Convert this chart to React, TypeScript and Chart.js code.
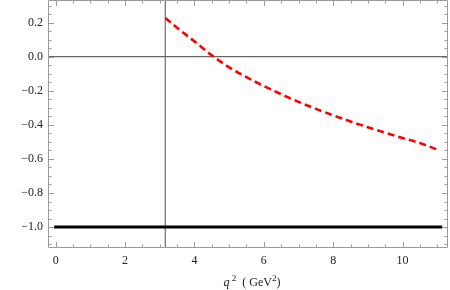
import React, { useEffect, useRef } from "react";
import { Chart, registerables } from "chart.js";

Chart.register(...registerables);

// ---- data ----
const curveX = [3.16, 3.5, 4.0, 4.5, 5.0, 5.5, 6.0, 6.5, 7.0, 7.5, 8.0, 8.5, 9.0, 9.5, 10.0, 10.5, 11.0];
const curveY = [0.228, 0.170, 0.090, 0.008, -0.062, -0.120, -0.172, -0.220, -0.265, -0.306, -0.344, -0.380, -0.414, -0.446, -0.477, -0.507, -0.545];
const baseX = [0, 11.1];
const baseY = [-1, -1];
const thresholdX = 3.16;
const zeroY = 0;
const xTicks = [0, 2, 4, 6, 8, 10];
const yTicks = [0.2, 0.0, -0.2, -0.4, -0.6, -0.8, -1.0];
const xMinorStep = 0.5;
const yMinorStep = 0.05;
const xMin = -0.222;
const xMax = 11.31;
const yMin = -1.123;
const yMax = 0.333;

const SERIF = '"Liberation Serif", "DejaVu Serif", serif';

const fmtY = (v: number) => {
  const s = Math.abs(v).toFixed(1);
  return v < -1e-9 ? "\u2212" + s : s;
};

const framePlugin = {
  id: "mmaFrame",
  afterDatasetsDraw(chart: any) {
    const { ctx, chartArea, scales } = chart;
    const xs = scales.x;
    const ys = scales.y;
    const L = chartArea.left + 0.5;
    const R = chartArea.right - 0.5;
    const T = chartArea.top + 0.5;
    const B = chartArea.bottom - 0.5;
    ctx.save();
    ctx.strokeStyle = "#9a9a9a";
    ctx.lineWidth = 1;
    ctx.beginPath();
    ctx.rect(L, T, R - L, B - T);
    ctx.stroke();
    // ticks
    const major = 5.5;
    const minor = 3;
    ctx.beginPath();
    const xStart = Math.ceil(xMin / xMinorStep);
    const xEnd = Math.floor(xMax / xMinorStep);
    for (let i = xStart; i <= xEnd; i++) {
      const v = i * xMinorStep;
      const isMajor = xTicks.some((t) => Math.abs(t - v) < 1e-6);
      const len = isMajor ? major : minor;
      const px = Math.round(xs.getPixelForValue(v)) + 0.5;
      ctx.moveTo(px, B);
      ctx.lineTo(px, B - len);
      ctx.moveTo(px, T);
      ctx.lineTo(px, T + len);
    }
    const yStart = Math.ceil(yMin / yMinorStep);
    const yEnd = Math.floor(yMax / yMinorStep);
    for (let i = yStart; i <= yEnd; i++) {
      const v = i * yMinorStep;
      const isMajor = yTicks.some((t) => Math.abs(t - v) < 1e-6);
      const len = isMajor ? major : minor;
      const py = Math.round(ys.getPixelForValue(v)) + 0.5;
      ctx.moveTo(L, py);
      ctx.lineTo(L + len, py);
      ctx.moveTo(R, py);
      ctx.lineTo(R - len, py);
    }
    ctx.stroke();

    // axis label: q^2 ( GeV^2 )
    const parts: { t: string; font: string; dy: number }[] = [
      { t: "q", font: `italic 12px ${SERIF}`, dy: 0 },
      { t: " 2", font: `9px ${SERIF}`, dy: -5 },
      { t: "  ( GeV", font: `12px ${SERIF}`, dy: 0 },
      { t: "2", font: `9px ${SERIF}`, dy: -5 },
      { t: ")", font: `12px ${SERIF}`, dy: 0 },
    ];
    let total = 0;
    for (const p of parts) {
      ctx.font = p.font;
      total += ctx.measureText(p.t).width;
    }
    let x = 252 - total / 2;
    const base = 285.5;
    ctx.fillStyle = "#222";
    ctx.textBaseline = "alphabetic";
    ctx.textAlign = "left";
    for (const p of parts) {
      ctx.font = p.font;
      ctx.fillText(p.t, x, base + p.dy);
      x += ctx.measureText(p.t).width;
    }
    ctx.restore();
  },
};

export default function App() {
  const ref = useRef<HTMLCanvasElement | null>(null);
  useEffect(() => {
    if (!ref.current) return;
    const chart = new Chart(ref.current, {
      type: "scatter",
      data: {
        datasets: [
          {
            data: curveX.map((x, i) => ({ x, y: curveY[i] })),
            showLine: true,
            borderColor: "#ff0000",
            borderWidth: 2.6,
            borderDash: [7, 4],
            pointRadius: 0,
            cubicInterpolationMode: "monotone",
            fill: false,
            order: 1,
          },
          {
            data: baseX.map((x, i) => ({ x, y: baseY[i] })),
            showLine: true,
            borderColor: "#000000",
            borderWidth: 3,
            borderCapStyle: "square",
            pointRadius: 0,
            fill: false,
            order: 2,
          },
          {
            data: [
              { x: xMin, y: zeroY },
              { x: xMax, y: zeroY },
            ],
            showLine: true,
            borderColor: "#666666",
            borderWidth: 1.2,
            pointRadius: 0,
            fill: false,
            order: 3,
          },
          {
            data: [
              { x: thresholdX, y: yMin },
              { x: thresholdX, y: yMax },
            ],
            showLine: true,
            borderColor: "#777777",
            borderWidth: 1.3,
            pointRadius: 0,
            fill: false,
            order: 4,
          },
        ],
      },
      options: {
        animation: false,
        responsive: false,
        events: [],
        layout: { padding: { top: 0, right: 2, left: 0, bottom: 0 } },
        plugins: { legend: { display: false }, tooltip: { enabled: false }, title: { display: false } },
        scales: {
          x: {
            type: "linear",
            min: xMin,
            max: xMax,
            grid: { display: false, drawTicks: false },
            border: { display: false },
            afterFit: (s: any) => {
              s.height = 42;
              s.paddingLeft = 0;
              s.paddingRight = 0;
              s.paddingTop = 0;
              s.paddingBottom = 0;
            },
            afterBuildTicks: (s: any) => {
              s.ticks = xTicks.map((v) => ({ value: v }));
            },
            ticks: {
              callback: (v: any) => String(v),
              font: { family: SERIF, size: 12 },
              color: "#222",
              padding: 6,
              maxRotation: 0,
              autoSkip: false,
            },
          },
          y: {
            type: "linear",
            min: yMin,
            max: yMax,
            grid: { display: false, drawTicks: false },
            border: { display: false },
            afterFit: (s: any) => {
              s.width = 48;
              s.paddingLeft = 0;
              s.paddingRight = 0;
              s.paddingTop = 0;
              s.paddingBottom = 0;
            },
            afterBuildTicks: (s: any) => {
              s.ticks = yTicks.map((v) => ({ value: v }));
            },
            ticks: {
              callback: (v: any) => fmtY(Number(v)),
              font: { family: SERIF, size: 12 },
              color: "#222",
              padding: 5,
              autoSkip: false,
            },
          },
        },
      },
      plugins: [framePlugin],
    } as any);
    return () => chart.destroy();
  }, []);
  return (
    <div style={{ position: "fixed", left: 0, top: 0, width: 450, height: 290, background: "#fff" }}>
      <canvas ref={ref} width={450} height={290} style={{ display: "block", width: 450, height: 290 }} />
    </div>
  );
}
